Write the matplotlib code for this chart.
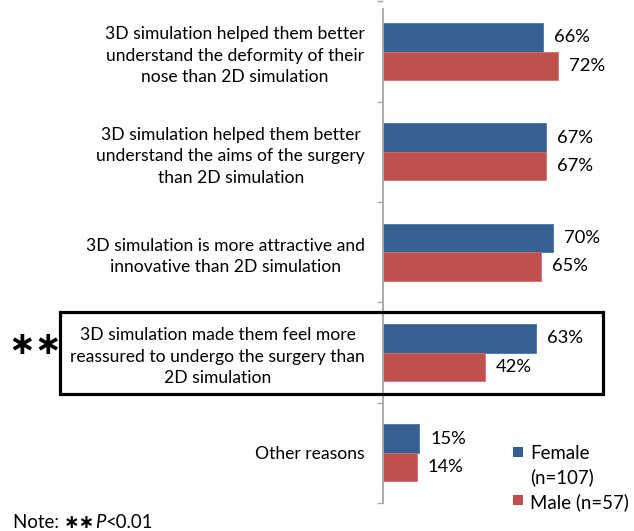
import matplotlib
matplotlib.use('Agg')
import matplotlib.pyplot as plt
import matplotlib.transforms as mtransforms
from matplotlib.patches import Rectangle
import numpy as np

categories = [
    "3D simulation helped them better\nunderstand the deformity of their\nnose than 2D simulation",
    "3D simulation helped them better\nunderstand the aims of the surgery\nthan 2D simulation",
    "3D simulation is more attractive and\ninnovative than 2D simulation",
    "3D simulation made them feel more\nreassured to undergo the surgery than\n2D simulation",
    "Other reasons",
]
female = [66, 67, 70, 63, 15]
male = [72, 67, 65, 42, 14]
series_labels = ["Female\n(n=107)", "Male (n=57)"]
highlight_index = 3
highlight_mark = "\u2217\u2217"
note_parts = ["Note: ", "\u2217\u2217", "P", "<0.01"]

BLUE = '#376092'
RED = '#C0504D'
AXIS = '#A6A6A6'
TXT = '#000000'

plt.rcParams['font.family'] = ['Lato', 'DejaVu Sans']

W, H = 634, 531
fig = plt.figure(figsize=(W / 100, H / 100), dpi=100)
r = fig.canvas.get_renderer()

def fit(s, px, **kw):
    t = fig.text(0, 0, s, fontsize=10, **kw)
    w = t.get_window_extent(r).width
    t.remove()
    return 10 * px / w

fs_cat = fit("3D simulation helped them better", 260)
fs_pct = fit("63%", 36)
fs_leg = fit("Male (n=57)", 98)

ax = fig.add_axes([382.7 / W, (H - 503) / H, 243 / W, 501.5 / H])
n = len(categories)
y = np.arange(n)
h = 0.284
bf = ax.barh(y - h / 2, female, height=h, color=BLUE, edgecolor='#4a73a8', linewidth=0.6)
bm = ax.barh(y + h / 2, male, height=h, color=RED, edgecolor='#d0706d', linewidth=0.6)
ax.set_xlim(0, 100)
ax.set_ylim(n - 0.5, -0.5)

ax.bar_label(bf, labels=[f"{v}%" for v in female], padding=8, fontsize=fs_pct, color=TXT)
ax.bar_label(bm, labels=[f"{v}%" for v in male], padding=8, fontsize=fs_pct, color=TXT)

for s in ['top', 'right', 'bottom']:
    ax.spines[s].set_visible(False)
ax.spines['left'].set_color(AXIS)
ax.spines['left'].set_linewidth(1.3)
ax.spines['left'].set_bounds(n - 0.5, -0.425)
ax.set_xticks([])
ax.set_yticks(np.arange(n + 1) - 0.5)
ax.set_yticklabels([])
ax.tick_params(axis='y', which='major', length=4, color=AXIS, width=1.0)
ax.set_yticks(y, minor=True)
ax.set_yticklabels(categories, minor=True, fontsize=fs_cat, color=TXT,
                   multialignment='center', linespacing=1.42)
ax.tick_params(axis='y', which='minor', length=0, pad=12.7)

# highlight box
tr = mtransforms.blended_transform_factory(fig.transFigure, ax.transData)
ax.add_patch(Rectangle((60 / W, highlight_index - 0.406), (603 - 60) / W, 0.821,
                       transform=tr, fill=False, edgecolor='black', linewidth=2.3,
                       clip_on=False, zorder=5))
fig.text(8 / W, highlight_index - 0.07, highlight_mark, transform=tr, fontsize=23,
         fontweight='bold', family='DejaVu Sans', va='center', ha='left', color=TXT)

# legend (drawn as key squares + text, Excel style: square on first line)
leg_rows = [(series_labels[0], BLUE, 452), (series_labels[1], RED, 500)]
for lab, col, yc in leg_rows:
    fig.patches.append(Rectangle((513 / W, (H - yc - 5) / H), 10 / W, 10 / H,
                                 transform=fig.transFigure, facecolor=col,
                                 edgecolor='none', figure=fig))
    fig.text(530 / W, (H - yc + 7) / H, lab, fontsize=fs_leg, ha='left', va='top',
             color=TXT, linespacing=1.45)

# note
x = 13
yv = (H - 523) / H
styles = [dict(), dict(family='DejaVu Sans', fontweight='bold'), dict(style='italic'), dict()]
for part, st in zip(note_parts, styles):
    t = fig.text(x / W, yv, part, fontsize=fs_leg, va='center', ha='left', color=TXT, **st)
    x += t.get_window_extent(r).width

fig.savefig('out.png', dpi=100)
